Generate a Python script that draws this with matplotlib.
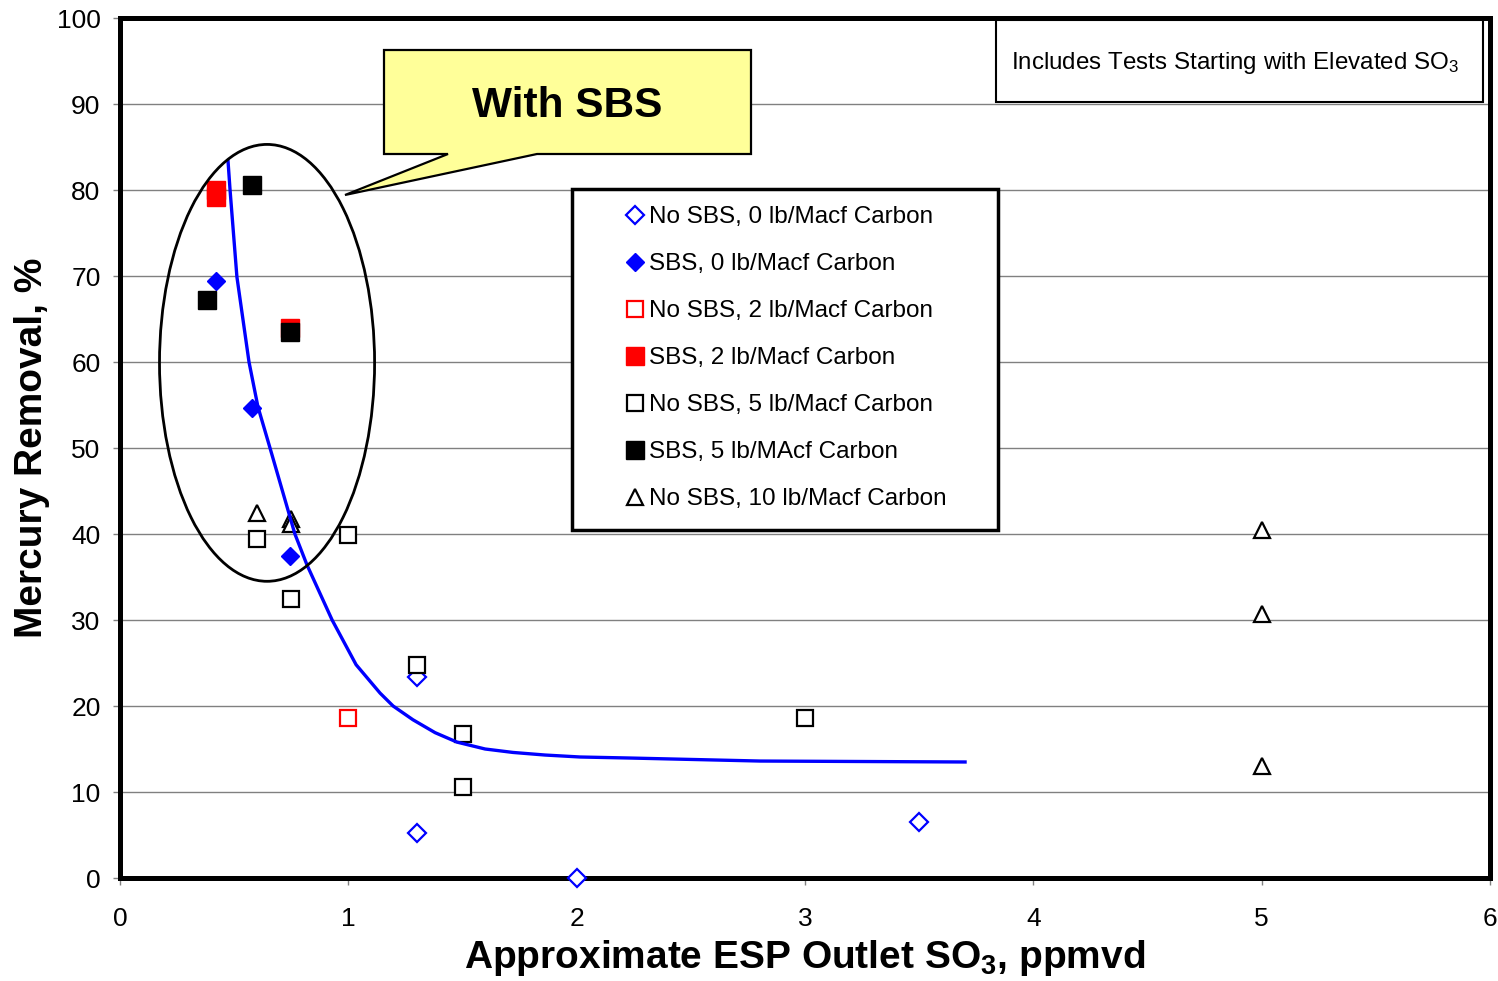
import numpy as np
import matplotlib.pyplot as plt
from matplotlib.patches import Ellipse, Polygon, Rectangle
from matplotlib.transforms import Affine2D

plt.rcParams['font.family'] = ['Liberation Sans', 'DejaVu Sans']
plt.rcParams['mathtext.fontset'] = 'custom'
plt.rcParams['mathtext.rm'] = 'Liberation Sans'
plt.rcParams['mathtext.it'] = 'Liberation Sans:italic'
plt.rcParams['mathtext.bf'] = 'Liberation Sans:bold'

# ------------------------------------------------------------
# Data
# ------------------------------------------------------------
nosbs0_x = [1.3, 1.3, 2.0, 3.5]
nosbs0_y = [23.4, 5.2, 0.0, 6.5]
sbs0_x = [0.42, 0.58, 0.745]
sbs0_y = [69.4, 54.7, 37.4]
nosbs2_x = [1.0]
nosbs2_y = [18.6]
sbs2_x = [0.42, 0.42, 0.745]
sbs2_y = [80.0, 79.2, 64.0]
nosbs5_x = [0.6, 0.75, 1.0, 1.3, 1.5, 1.5, 3.0]
nosbs5_y = [39.4, 32.4, 39.9, 24.8, 16.7, 10.6, 18.6]
sbs5_x = [0.58, 0.38, 0.745]
sbs5_y = [80.6, 67.2, 63.5]
nosbs10_x = [0.6, 0.75, 0.75, 5.0, 5.0, 5.0]
nosbs10_y = [42.5, 41.7, 41.2, 40.5, 30.7, 13.0]

# trend curve drawn on the chart
curve_x = [0.473, 0.482, 0.512, 0.565, 0.604, 0.657, 0.766, 0.819, 0.929,
           1.034, 1.139, 1.196, 1.283, 1.380, 1.476, 1.599, 1.721, 1.861,
           2.015, 2.234, 2.803, 3.701]
curve_y = [83.4, 80.0, 69.9, 60.0, 54.8, 50.0, 40.0, 36.4, 30.0,
           24.8, 21.5, 20.0, 18.4, 16.9, 15.8, 15.0, 14.6, 14.3,
           14.07, 13.95, 13.60, 13.49]

legend_labels = ["No SBS, 0 lb/Macf Carbon", "SBS, 0 lb/Macf Carbon",
                 "No SBS, 2 lb/Macf Carbon", "SBS, 2 lb/Macf Carbon",
                 "No SBS, 5 lb/Macf Carbon", "SBS, 5 lb/MAcf Carbon",
                 "No SBS, 10 lb/Macf Carbon"]

# ------------------------------------------------------------
# Figure
# ------------------------------------------------------------
W, H = 1498, 981
fig = plt.figure(figsize=(W / 100, H / 100), dpi=100)
ax = fig.add_axes([120 / W, 1 - 878 / H, 1370 / W, 860 / H])
px = Affine2D().scale(1 / W, -1 / H).translate(0, 1) + fig.transFigure

ax.set_xlim(0, 6)
ax.set_ylim(0, 100)
ax.set_xticks(range(0, 7))
ax.set_yticks(range(0, 101, 10))
ax.yaxis.grid(True, color='#808080', lw=1.0)
ax.set_axisbelow(True)
for s in ax.spines.values():
    s.set_linewidth(3.6)
ax.tick_params(axis='both', direction='out', length=5, width=1,
               color='#808080', labelsize=19)
ax.tick_params(axis='x', pad=16)
ax.tick_params(axis='y', pad=9)

ax.set_xlabel(r"Approximate ESP Outlet SO$_\mathbf{3}$, ppmvd",
              fontsize=28, fontweight='bold', va='center')
ax.xaxis.set_label_coords(0.5, -0.093)
ax.set_ylabel("Mercury Removal, %", fontsize=28, fontweight='bold', va='center')
ax.yaxis.set_label_coords(-0.064, 0.5)

mk = dict(ls='none', clip_on=False, zorder=3)
h1, = ax.plot(nosbs0_x, nosbs0_y, marker='D', ms=9, mfc='white', mec='#0000FF',
              mew=1.6, label=legend_labels[0], **mk)
h2, = ax.plot(sbs0_x, sbs0_y, marker='D', ms=9, mfc='#0000FF', mec='#0000FF',
              mew=1.0, label=legend_labels[1], **mk)
h3, = ax.plot(nosbs2_x, nosbs2_y, marker='s', ms=11, mfc='white', mec='#FF0000',
              mew=1.6, label=legend_labels[2], **mk)
h4, = ax.plot(sbs2_x, sbs2_y, marker='s', ms=12.5, mfc='#FF0000', mec='#FF0000',
              mew=1.0, label=legend_labels[3], **mk)
h5, = ax.plot(nosbs5_x, nosbs5_y, marker='s', ms=11, mfc='white', mec='black',
              mew=1.6, label=legend_labels[4], **mk)
h6, = ax.plot(sbs5_x, sbs5_y, marker='s', ms=12.5, mfc='black', mec='black',
              mew=1.0, label=legend_labels[5], **mk)
h7, = ax.plot(nosbs10_x, nosbs10_y, marker='^', ms=11.5, mfc='white', mec='black',
              mew=1.6, label=legend_labels[6], **mk)

ax.plot(curve_x, curve_y, color='#0000FF', lw=2.4, zorder=3,
        solid_joinstyle='round')

# ellipse around the SBS points
ax.add_patch(Ellipse((0.644, 59.9), 0.942, 50.8, fill=False, ec='black',
                     lw=2.0, zorder=3))

# "With SBS" callout
callout = [(384, 50), (751, 50), (751, 154), (537, 154), (345, 195),
           (448, 154), (384, 154)]
fig.add_artist(Polygon(callout, closed=True, transform=px, fc='#FFFF99',
                       ec='black', lw=1.6, zorder=4))
fig.text(567, 106, "With SBS", transform=px, fontsize=30.5, fontweight='bold',
         ha='center', va='center', zorder=5)

# note box
fig.add_artist(Rectangle((996, 20), 487, 82, transform=px, fc='white',
                         ec='black', lw=1.5, zorder=4))
fig.text(1011, 63, r"Includes Tests Starting with Elevated SO$_3$",
         transform=px, fontsize=17.4, ha='left', va='center', zorder=5)

# legend
fig.add_artist(Rectangle((572, 189), 426, 341, transform=px, fc='white',
                         ec='black', lw=2.5, zorder=4))
leg = fig.legend(handles=[h1, h2, h3, h4, h5, h6, h7], loc='upper left',
                 bbox_to_anchor=(623, 206), bbox_transform=px, frameon=False,
                 fontsize=17.5, borderpad=0, borderaxespad=0, handlelength=1.0,
                 handletextpad=0.08, labelspacing=1.03, numpoints=1)
leg.set_zorder(6)

fig.savefig("out.png", dpi=100)
